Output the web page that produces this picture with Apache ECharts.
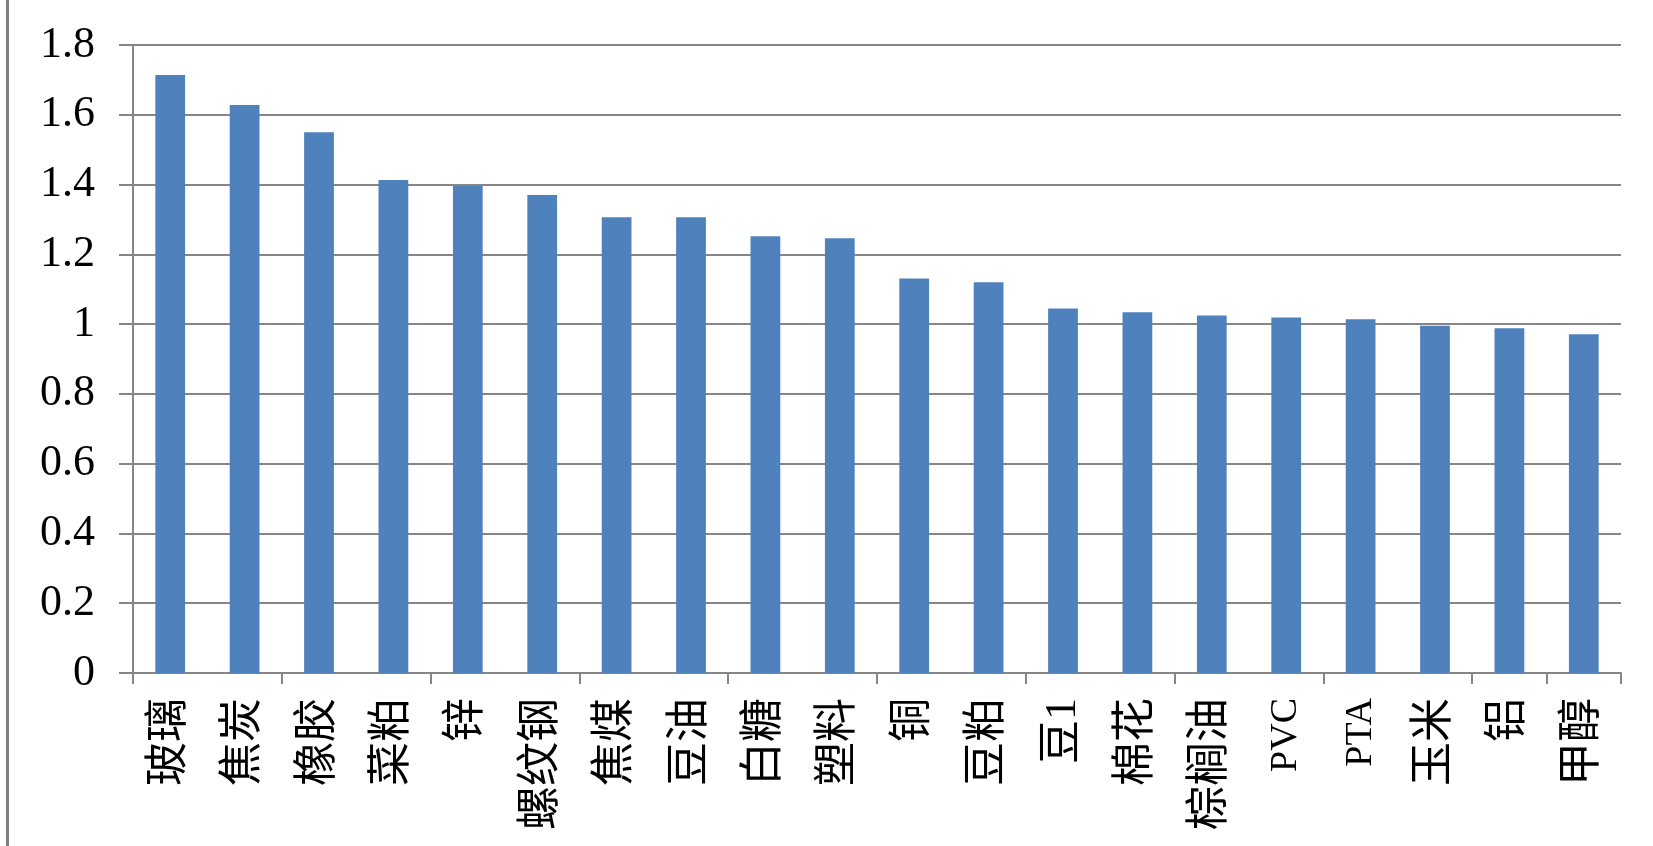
<!DOCTYPE html>
<html>
<head>
<meta charset="utf-8">
<script src="https://cdn.jsdelivr.net/npm/echarts@6/dist/echarts.min.js"></script>
<style>
    html, body { margin: 0; padding: 0; background: #fff; }
    #chart { width: 1653px; height: 846px; }
</style>
</head>
<body>
<div id="chart"></div>
<script>
// commodities, sorted by value
const categories = ['玻璃', '焦炭', '橡胶', '菜粕', '锌', '螺纹钢', '焦煤', '豆油', '白糖', '塑料',
    '铜', '豆粕', '豆1', '棉花', '棕榈油', 'PVC', 'PTA', '玉米', '铝', '甲醇'];
const values = [1.714, 1.628, 1.550, 1.413, 1.396, 1.370, 1.306, 1.306, 1.252, 1.246,
    1.131, 1.120, 1.045, 1.034, 1.025, 1.019, 1.014, 0.995, 0.988, 0.971];
const yTicks = [0, 0.2, 0.4, 0.6, 0.8, 1, 1.2, 1.4, 1.6, 1.8];

const gray = '#868686';
const labelFont = '"Liberation Serif", "Noto Sans CJK SC", serif';

const chart = echarts.init(document.getElementById('chart'));

const option = {
    animation: false,
    backgroundColor: '#fff',
    // left edge of the chart frame
    graphic: [{
        type: 'rect',
        left: 6,
        top: 0,
        shape: { width: 3, height: 846 },
        style: { fill: '#7f7f7f' }
    }],
    grid: {
        left: 133,
        right: 32,
        top: 45,
        bottom: 173
    },
    xAxis: {
        type: 'category',
        data: categories,
        axisLine: { show: true, lineStyle: { color: gray, width: 2 } },
        axisTick: { show: true, interval: 1, length: 11, lineStyle: { color: gray, width: 2 } },
        axisLabel: {
            interval: 0,
            rotate: 90,
            margin: 25,
            color: '#000',
            fontSize: 44,
            fontFamily: labelFont,
            formatter: function (v) {
                // latin names are half-width in the original font
                return /^[A-Z]+$/.test(v) ? '{lat|' + v + '}' : v;
            },
            rich: {
                lat: { fontSize: 38, fontFamily: labelFont, color: '#000' }
            }
        },
        splitLine: { show: false }
    },
    yAxis: {
        type: 'value',
        min: yTicks[0],
        max: yTicks[yTicks.length - 1],
        interval: 0.2,
        axisLine: { show: true, lineStyle: { color: gray, width: 2 } },
        axisTick: { show: true, length: 14, lineStyle: { color: gray, width: 2 } },
        axisLabel: {
            margin: 38,
            color: '#000',
            fontSize: 44,
            fontFamily: labelFont,
            formatter: function (v) {
                return String(Math.round(v * 10) / 10);
            }
        },
        splitLine: { show: true, lineStyle: { color: gray, width: 2 } }
    },
    series: [{
        type: 'bar',
        data: values,
        barCategoryGap: '60%',
        itemStyle: { color: '#4F81BD' }
    }]
};

chart.setOption(option);
</script>
</body>
</html>
